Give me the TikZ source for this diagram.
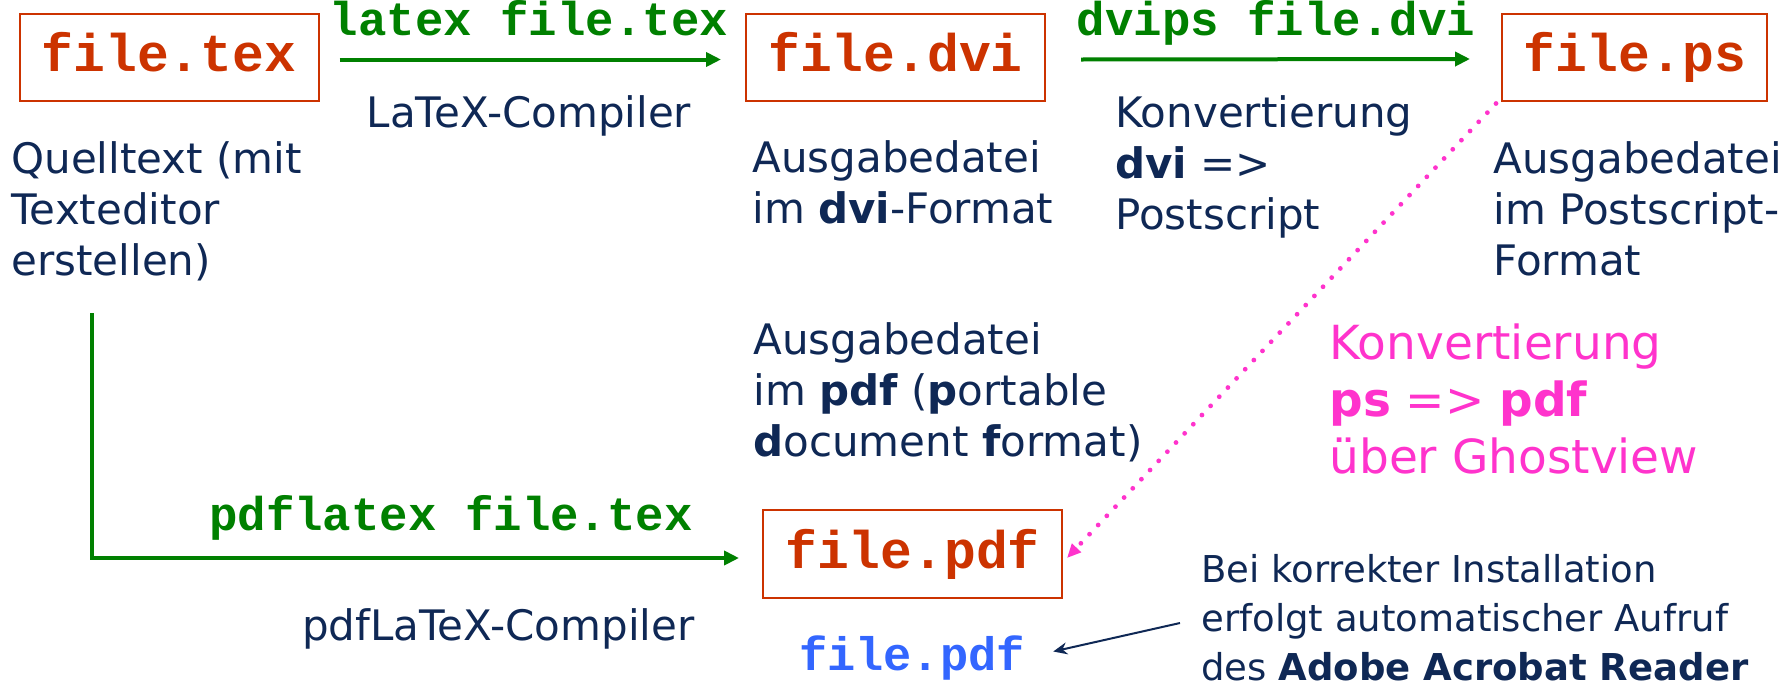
\documentclass[tikz,border=0pt]{standalone}
\usepackage{fontspec}
\setmainfont{DejaVu Sans}
\newfontfamily\codefont{Liberation Mono}
\usetikzlibrary{arrows.meta}
\definecolor{navy}{RGB}{15,40,85}
\definecolor{fileRed}{RGB}{204,51,0}
\definecolor{cmdGreen}{RGB}{0,128,0}
\definecolor{pinkish}{RGB}{255,51,204}
\definecolor{linkBlue}{RGB}{51,102,255}
\tikzset{
  filebox/.style={draw=fileRed, line width=1pt, text=fileRed,
    font=\codefont\bfseries\fontsize{26.5}{30}\selectfont,
    inner sep=0pt, text height=14pt, text depth=0pt,
    minimum width=149.5pt, minimum height=43.5pt},
  cmd/.style={text=cmdGreen, font=\codefont\bfseries\fontsize{23.7}{28}\selectfont,
    inner sep=0pt, anchor=base},
  desc/.style={text=navy, font=\fontsize{21}{25.5}\selectfont,
    inner sep=0pt, anchor=base west, align=left},
  flow/.style={draw=cmdGreen, line width=2pt, -{Triangle[length=7.5pt,width=7pt]}},
  pinkdots/.style={draw=pinkish, line width=2.4pt, line cap=round,
    dash pattern=on 0pt off 6.3pt, -{Triangle[length=7pt,width=6pt]}},
  pointer/.style={draw=navy, line width=1pt, -{Stealth[length=7pt,width=6pt]}}
}
\begin{document}
\begin{tikzpicture}[x=0.5pt,y=-0.5pt]
\useasboundingbox (0,0) rectangle (1782,691);

% file boxes
\node[filebox] (tex) at (169,57.5) {file.tex};
\node[filebox] (dvi) at (895.5,57.5) {file.dvi};
\node[filebox, minimum width=132.5pt] (ps) at (1634.5,57) {file.ps};
\node[filebox, minimum height=44pt] (pdf) at (912.5,554) {file.pdf};

% commands
\node[cmd] (latexcmd) at (529,35) {latex file.tex};
\node[cmd] (dvipscmd) at (1276,35) {dvips file.dvi};
\node[cmd] (pdflatexcmd) at (451,530) {pdflatex file.tex};

% arrows
\draw[flow] ([xshift=10pt,yshift=-1pt]tex.east) -- ([xshift=-12pt,yshift=-1pt]dvi.west);
\draw[flow] ([xshift=17.5pt,yshift=-1pt]dvi.east) -- ([xshift=-15.5pt,yshift=-1pt]ps.west);
\coordinate (qstart) at (92,313);
\draw[flow] (qstart) |- ([xshift=-11.5pt,yshift=-2pt]pdf.west);

% descriptions (base anchor = baseline of the last line)
\node[desc, anchor=base] (latexcomp) at (529,127) {LaTeX-Compiler};
\node[desc] (quell) at (11,275) {Quelltext (mit\\Texteditor\\erstellen)};
\node[desc] (dvidesc) at (752,223) {Ausgabedatei\\im \textbf{dvi}-Format};
\node[desc] (konv) at (1115,229) {Konvertierung\\\textbf{dvi} =>\\Postscript};
\node[desc] (psdesc) at (1493,275) {Ausgabedatei\\im Postscript-\\Format};
\node[desc] (pdfdesc) at (753,456) {Ausgabedatei\\im \textbf{pdf} (\textbf{p}ortable\\\textbf{d}ocument \textbf{f}ormat)};
\node[desc, anchor=base east] (pdfcomp) at (695,640) {pdfLaTeX-Compiler};

\node[text=pinkish, font=\fontsize{23.5}{28.5}\selectfont, inner sep=0pt,
  anchor=base west, align=left] (ghost) at (1329,473)
  {Konvertierung\\\textbf{ps} => \textbf{pdf}\\über Ghostview};

\node[text=navy, font=\fontsize{18.5}{24.5}\selectfont, inner sep=0pt,
  anchor=base west, align=left] (bei) at (1201,680)
  {Bei korrekter Installation\\erfolgt automatischer Aufruf\\des \textbf{Adobe Acrobat Reader}};

\node[text=linkBlue, font=\codefont\bfseries\fontsize{23.5}{28}\selectfont,
  inner sep=0pt, anchor=base] (bluepdf) at (912,670) {file.pdf};

% pink dotted conversion
\draw[pinkdots] ([xshift=-2.5pt,yshift=-1pt]ps.south west) -- ([xshift=2pt,yshift=-2pt]pdf.east);

% pointer to viewer
\coordinate (beiptr) at (1180,623);
\draw[pointer] (beiptr) -- ([xshift=14pt,yshift=3pt]bluepdf.east);
\end{tikzpicture}
\end{document}
